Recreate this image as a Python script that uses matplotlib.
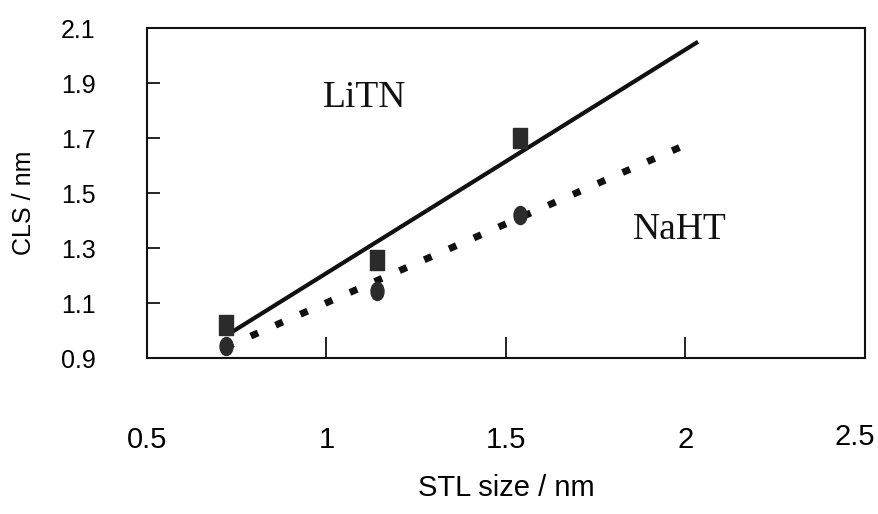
import numpy as np
import matplotlib
matplotlib.use('Agg')
import matplotlib.pyplot as plt
from matplotlib.path import Path
from matplotlib.transforms import Affine2D, ScaledTranslation

# measured points
stl_size = [0.72, 1.14, 1.54]
cls_litn = [1.02, 1.255, 1.70]
cls_naht = [0.945, 1.145, 1.42]

# drawn trend lines (start / end points)
litn_line_x = [0.725, 2.035]
litn_line_y = [0.985, 2.05]
naht_line_x = [0.72, 2.0]
naht_line_y = [0.94, 1.675]

x_ticks = [0.5, 1, 1.5, 2, 2.5]
x_ticklabels = ['0.5', '1', '1.5', '2', '2.5']
y_ticks = [0.9, 1.1, 1.3, 1.5, 1.7, 1.9, 2.1]
y_ticklabels = ['0.9', '1.1', '1.3', '1.5', '1.7', '1.9', '2.1']

series_names = ['LiTN', 'NaHT']
name_x = [0.99, 1.854]
name_y = [1.814, 1.331]

# tall rectangle and tall ellipse markers (scanned look)
rect = Path([(-0.34, -0.5), (0.34, -0.5), (0.34, 0.5), (-0.34, 0.5), (-0.34, -0.5)],
            [Path.MOVETO, Path.LINETO, Path.LINETO, Path.LINETO, Path.CLOSEPOLY])
ell = Affine2D().scale(0.36, 0.5).transform_path(Path.unit_circle())

plt.rcParams['font.family'] = ['Liberation Sans', 'DejaVu Sans']

fig = plt.figure(figsize=(8.79, 5.14), dpi=100)
ax = fig.add_axes([0.1672, 0.3035, 0.8168, 0.642])

ax.plot(litn_line_x, litn_line_y, color='#111111', lw=3, solid_capstyle='butt', zorder=2)
ax.plot(naht_line_x, naht_line_y, color='#111111', lw=5, dashes=(1.15, 2.75),
        dash_capstyle='butt', zorder=2)
ax.plot(stl_size, cls_litn, ls='none', marker=rect, markersize=14,
        color='#2b2b2b', zorder=3)
ax.plot(stl_size, cls_naht, ls='none', marker=ell, markersize=13,
        color='#2b2b2b', zorder=3)

for name, tx, ty in zip(series_names, name_x, name_y):
    ax.text(tx, ty, name, family='Liberation Serif', fontsize=27, va='baseline',
            ha='left', color='#111111')

ax.set_xlim(0.5, 2.5)
ax.set_ylim(0.9, 2.1)
ax.set_xticks(x_ticks)
ax.set_xticklabels(x_ticklabels)
ax.set_yticks(y_ticks)
ax.set_yticklabels(y_ticklabels)
ax.tick_params(axis='x', direction='in', length=15, width=1.2, pad=49, labelsize=21)
ax.tick_params(axis='y', direction='in', length=9, width=1.2, pad=37, labelsize=18)

# last x label sits a little inside the frame edge
last = ax.get_xticklabels()[-1]
last.set_transform(last.get_transform() + ScaledTranslation(-0.1, 0.03, fig.dpi_scale_trans))

for sp in ax.spines.values():
    sp.set_linewidth(1.5)
    sp.set_color('#111111')

ax.set_xlabel('STL size / nm', fontsize=21)
ax.set_ylabel('CLS / nm', fontsize=18)
ax.xaxis.set_label_coords(0.5, -0.351)
ax.yaxis.set_label_coords(-0.155, 0.47)

fig.savefig('out.png', dpi=100)
